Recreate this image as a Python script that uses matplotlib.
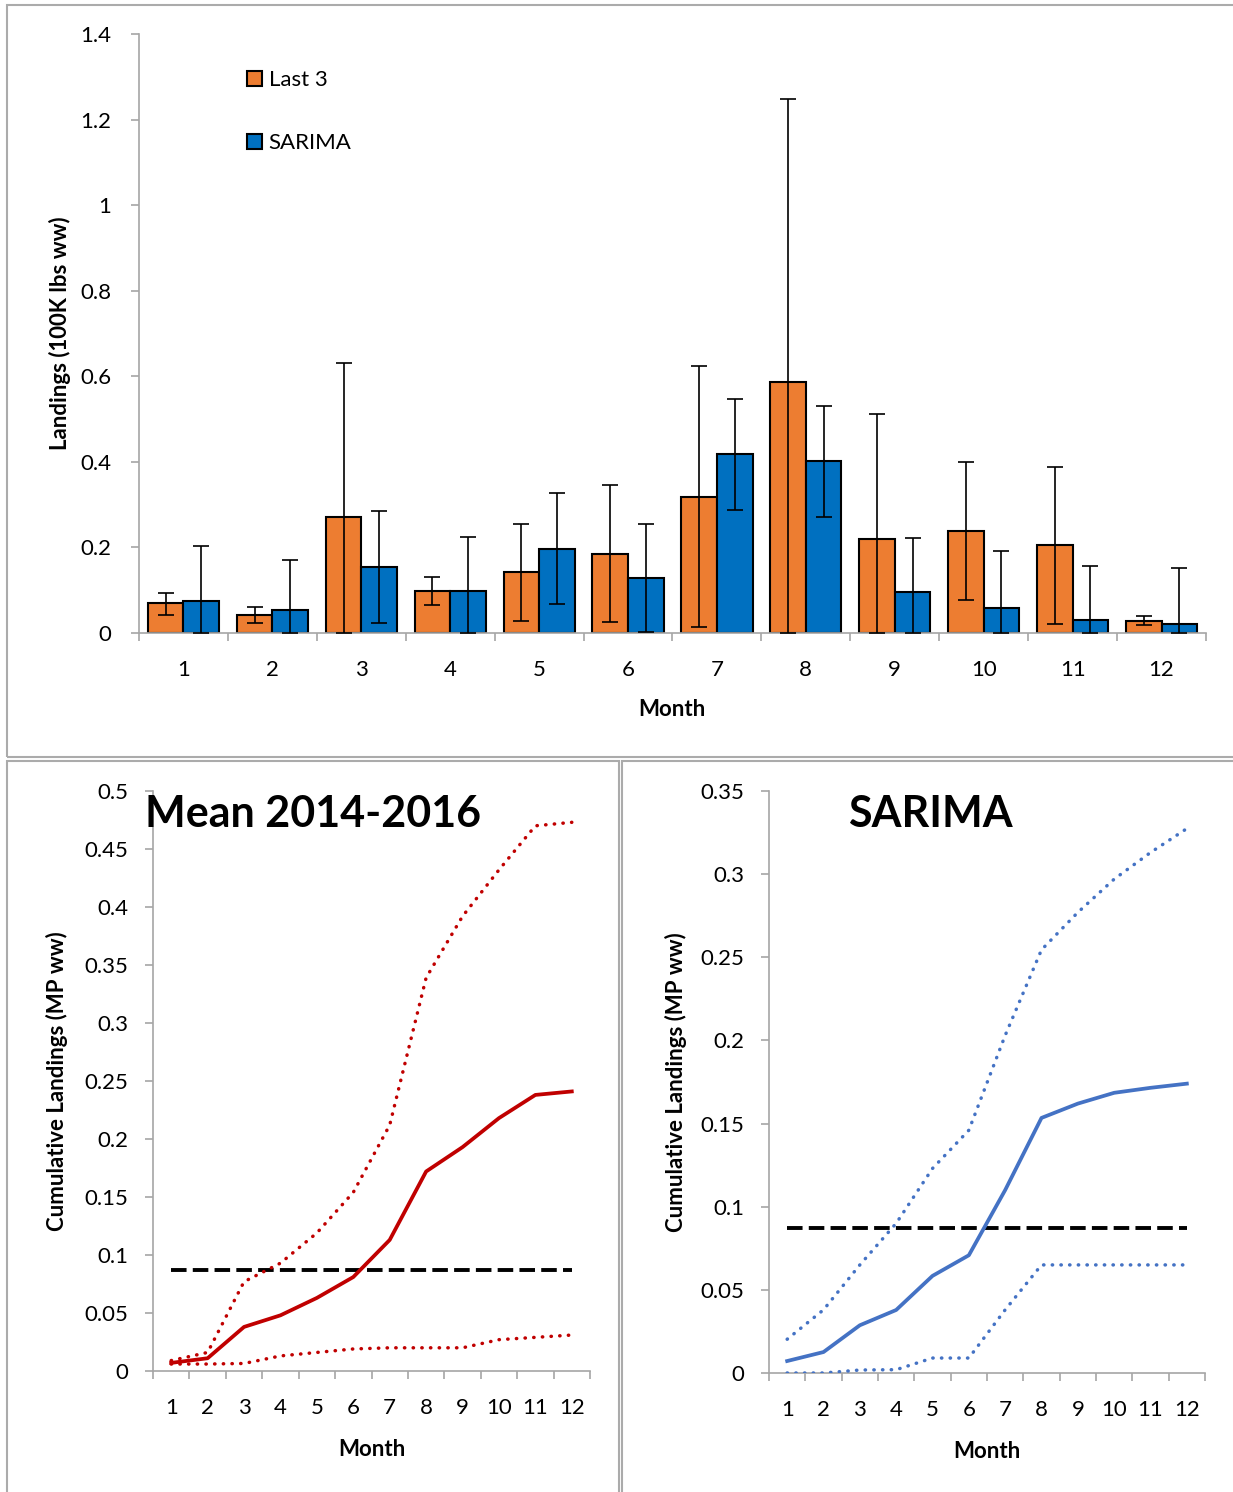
import matplotlib
matplotlib.use('Agg')
import matplotlib.pyplot as plt
import numpy as np
from matplotlib.patches import Rectangle

plt.rcParams['font.family'] = ['Lato', 'DejaVu Sans']

# ---- data ----
months = [str(m) for m in range(1, 13)]

# top panel: bar heights and error bar bounds (100K lbs ww)
last3 = [0.069, 0.042, 0.270, 0.098, 0.142, 0.185, 0.319, 0.586, 0.219, 0.238, 0.205, 0.028]
last3_lo = [0.043, 0.024, 0.0, 0.065, 0.029, 0.026, 0.013, 0.0, 0.0, 0.076, 0.020, 0.019]
last3_hi = [0.094, 0.061, 0.632, 0.132, 0.254, 0.346, 0.623, 1.248, 0.513, 0.400, 0.387, 0.039]

sarima = [0.075, 0.053, 0.154, 0.098, 0.196, 0.128, 0.419, 0.401, 0.095, 0.059, 0.030, 0.020]
sarima_lo = [0.0, 0.0, 0.023, 0.0, 0.068, 0.003, 0.288, 0.271, 0.0, 0.0, 0.0, 0.0]
sarima_hi = [0.204, 0.170, 0.284, 0.224, 0.327, 0.255, 0.548, 0.531, 0.221, 0.191, 0.156, 0.153]

# bottom panels: cumulative landings (MP ww)
mean_cum = [0.007, 0.011, 0.038, 0.048, 0.063, 0.081, 0.113, 0.172, 0.193, 0.218, 0.238, 0.241]
mean_hi = [0.009, 0.016, 0.077, 0.093, 0.119, 0.154, 0.212, 0.339, 0.392, 0.432, 0.470, 0.473]
mean_lo = [0.006, 0.006, 0.0065, 0.013, 0.016, 0.019, 0.020, 0.020, 0.020, 0.027, 0.029, 0.031]

sar_cum = [0.0072, 0.0126, 0.0287, 0.0379, 0.0584, 0.0708, 0.110, 0.1534, 0.162, 0.1685, 0.1715, 0.174]
sar_hi = [0.0203, 0.038, 0.065, 0.090, 0.123, 0.146, 0.203, 0.2545, 0.277, 0.297, 0.313, 0.3274]
sar_lo = [0.0, 0.0, 0.0018, 0.002, 0.009, 0.009, 0.038, 0.065, 0.065, 0.065, 0.065, 0.065]

quota = 0.087

ORANGE = '#ED7D31'
BLUE = '#0070C0'
RED = '#C00000'
LBLUE = '#4472C4'
SPINE = '#A6A6A6'
FS = 16

W, H = 1233, 1492
fig = plt.figure(figsize=(W / 100, H / 100), dpi=100)


def px_axes(left, top, right, bottom):
    return fig.add_axes([left / W, 1 - bottom / H, (right - left) / W, (bottom - top) / H])


def style_axes(ax, ypad):
    for s in ['top', 'right']:
        ax.spines[s].set_visible(False)
    for s in ['left', 'bottom']:
        ax.spines[s].set_color(SPINE)
        ax.spines[s].set_linewidth(1.2)
    x = np.arange(1, 13)
    ax.set_xlim(0.5, 12.5)
    ax.set_xticks(np.arange(0.5, 13.0, 1.0))
    ax.set_xticklabels([])
    ax.set_xticks(x, minor=True)
    ax.set_xticklabels(months, minor=True)
    ax.tick_params(axis='x', which='major', direction='out', length=6, color=SPINE, width=1.2)
    ax.tick_params(axis='x', which='minor', length=0, pad=19.5, labelsize=FS)
    ax.tick_params(axis='y', direction='out', length=6, color=SPINE, width=1.2, pad=ypad, labelsize=FS)


def fmt(v, pos):
    s = ('%.2f' % v).rstrip('0').rstrip('.')
    return s


# ---- top: bars ----
ax = px_axes(139, 34, 1206, 633)
x = np.arange(1, 13)
bw = 0.4
ax.bar(x - bw / 2, last3, bw, color=ORANGE, edgecolor='black', linewidth=1.5, label='Last 3', zorder=2)
ax.bar(x + bw / 2, sarima, bw, color=BLUE, edgecolor='black', linewidth=1.5, label='SARIMA', zorder=2)
err1 = [np.array(last3) - np.array(last3_lo), np.array(last3_hi) - np.array(last3)]
err2 = [np.array(sarima) - np.array(sarima_lo), np.array(sarima_hi) - np.array(sarima)]
ax.errorbar(x - bw / 2, last3, yerr=err1, fmt='none', ecolor='black', elinewidth=1.2, capsize=6, capthick=1.2, zorder=3)
ax.errorbar(x + bw / 2, sarima, yerr=err2, fmt='none', ecolor='black', elinewidth=1.2, capsize=6, capthick=1.2, zorder=3)
ax.set_ylim(0, 1.4)
ax.set_yticks(np.arange(0, 1.41, 0.2))
ax.yaxis.set_major_formatter(plt.FuncFormatter(fmt))
style_axes(ax, 14)
ax.set_xlabel('Month', fontsize=FS, fontweight='bold')
ax.xaxis.set_label_coords(0.4995, -0.11)
ax.set_ylabel('Landings (100K lbs ww)', fontsize=FS, fontweight='bold')
ax.yaxis.set_label_coords(-0.064, 0.5)
ax.legend(loc='upper left', bbox_to_anchor=(0.101, 0.94), frameon=False, fontsize=FS,
          handlelength=0.68, handleheight=0.68, handletextpad=0.3, labelspacing=1.95,
          borderaxespad=0, borderpad=0)


def line_panel(ax, cum, hi, lo, color, ymax, step, title, title_x):
    ax.plot(x, cum, color=color, lw=2.7, solid_joinstyle='round', zorder=3)
    ax.plot(x, hi, color=color, lw=2.5, linestyle=(0, (0.1, 2.4)), dash_capstyle='round', zorder=3)
    ax.plot(x, lo, color=color, lw=2.5, linestyle=(0, (0.1, 2.4)), dash_capstyle='round', zorder=3)
    ax.plot(x, [quota] * 12, color='black', lw=2.8, linestyle=(0, (4, 1.6)), zorder=2)
    ax.set_ylim(0, ymax)
    ax.set_yticks(np.arange(0, ymax + 1e-9, step))
    ax.yaxis.set_major_formatter(plt.FuncFormatter(fmt))
    style_axes(ax, 11.5)
    ax.set_xlabel('Month', fontsize=FS, fontweight='bold')
    ax.xaxis.set_label_coords(0.5, -0.117)
    ax.set_ylabel('Cumulative Landings (MP ww)', fontsize=FS, fontweight='bold')
    fig.text(title_x / W, 1 - 827 / H, title, fontsize=31, fontweight='bold', va='baseline', ha='left')


ax2 = px_axes(153, 791, 590, 1371)
line_panel(ax2, mean_cum, mean_hi, mean_lo, RED, 0.5, 0.05, 'Mean 2014-2016', 145)
ax2.yaxis.set_label_coords(-0.194, 0.5)

ax3 = px_axes(769, 791, 1205, 1373)
line_panel(ax3, sar_cum, sar_hi, sar_lo, LBLUE, 0.35, 0.05, 'SARIMA', 848)
ax3.yaxis.set_label_coords(-0.189, 0.5)

# panel borders
for (l, t, r, b) in [(7, 5, 1240, 757), (7, 761, 619, 1500), (622, 761, 1240, 1500)]:
    fig.add_artist(Rectangle((l / W, 1 - b / H), (r - l) / W, (b - t) / H, transform=fig.transFigure,
                             fill=False, edgecolor='#ABABAB', linewidth=1.5))

fig.savefig('out.png', dpi=100, facecolor='white')
